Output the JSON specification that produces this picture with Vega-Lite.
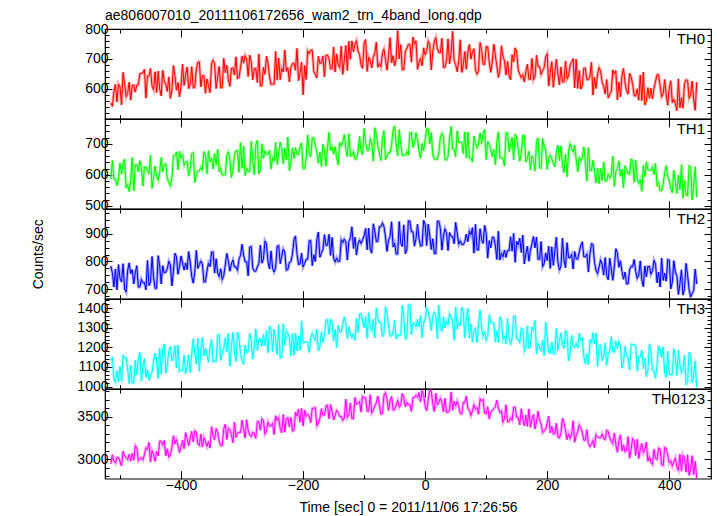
{
"$schema": "https://vega.github.io/schema/vega-lite/v6.json",
"background": "white",
"padding": {"left": 31, "top": 8, "right": 5, "bottom": 5},
"spacing": 0,
"bounds": "flush",
"data": {"values": [
{"t":-515,"th0":553,"th1":586,"th2":784,"th3":1133,"th0123":2947},
{"t":-510,"th0":591,"th1":587,"th2":708,"th3":1040,"th0123":2984},
{"t":-505,"th0":556,"th1":565,"th2":698,"th3":1081,"th0123":3021},
{"t":-500,"th0":606,"th1":638,"th2":739,"th3":1102,"th0123":2977},
{"t":-495,"th0":655,"th1":639,"th2":792,"th3":1162,"th0123":3095},
{"t":-490,"th0":573,"th1":557,"th2":690,"th3":1146,"th0123":3024},
{"t":-485,"th0":622,"th1":546,"th2":795,"th3":1015,"th0123":3060},
{"t":-480,"th0":612,"th1":656,"th2":771,"th3":1018,"th0123":3070},
{"t":-475,"th0":589,"th1":633,"th2":759,"th3":1135,"th0123":3161},
{"t":-470,"th0":614,"th1":610,"th2":708,"th3":1138,"th0123":2982},
{"t":-465,"th0":652,"th1":624,"th2":736,"th3":1027,"th0123":3019},
{"t":-460,"th0":665,"th1":625,"th2":724,"th3":1143,"th0123":3055},
{"t":-455,"th0":643,"th1":615,"th2":804,"th3":1089,"th0123":3119},
{"t":-450,"th0":668,"th1":664,"th2":727,"th3":1054,"th0123":2967},
{"t":-445,"th0":597,"th1":593,"th2":742,"th3":1133,"th0123":3058},
{"t":-440,"th0":587,"th1":595,"th2":704,"th3":1136,"th0123":3094},
{"t":-435,"th0":600,"th1":608,"th2":784,"th3":1195,"th0123":3212},
{"t":-430,"th0":662,"th1":609,"th2":785,"th3":1198,"th0123":3168},
{"t":-425,"th0":615,"th1":635,"th2":761,"th3":1068,"th0123":3043},
{"t":-420,"th0":640,"th1":576,"th2":801,"th3":1185,"th0123":3025},
{"t":-415,"th0":594,"th1":589,"th2":712,"th3":1131,"th0123":3143},
{"t":-410,"th0":643,"th1":662,"th2":830,"th3":1209,"th0123":3180},
{"t":-405,"th0":621,"th1":616,"th2":754,"th3":1212,"th0123":3162},
{"t":-400,"th0":610,"th1":653,"th2":820,"th3":1082,"th0123":3145},
{"t":-395,"th0":611,"th1":630,"th2":769,"th3":1161,"th0123":3126},
{"t":-390,"th0":673,"th1":644,"th2":771,"th3":1106,"th0123":3241},
{"t":-385,"th0":614,"th1":621,"th2":798,"th3":1071,"th0123":3249},
{"t":-380,"th0":604,"th1":671,"th2":722,"th3":1244,"th0123":3203},
{"t":-375,"th0":665,"th1":600,"th2":840,"th3":1114,"th0123":3319},
{"t":-370,"th0":690,"th1":613,"th2":789,"th3":1078,"th0123":3164},
{"t":-365,"th0":644,"th1":615,"th2":791,"th3":1252,"th0123":3145},
{"t":-360,"th0":585,"th1":664,"th2":727,"th3":1197,"th0123":3207},
{"t":-355,"th0":611,"th1":678,"th2":794,"th3":1124,"th0123":3214},
{"t":-350,"th0":684,"th1":655,"th2":834,"th3":1240,"th0123":3384},
{"t":-345,"th0":685,"th1":668,"th2":758,"th3":1129,"th0123":3230},
{"t":-340,"th0":639,"th1":682,"th2":759,"th3":1264,"th0123":3318},
{"t":-335,"th0":604,"th1":623,"th2":774,"th3":1134,"th0123":3164},
{"t":-330,"th0":702,"th1":601,"th2":749,"th3":1193,"th0123":3361},
{"t":-325,"th0":679,"th1":662,"th2":829,"th3":1177,"th0123":3234},
{"t":-320,"th0":608,"th1":651,"th2":765,"th3":1103,"th0123":3349},
{"t":-315,"th0":670,"th1":617,"th2":806,"th3":1277,"th0123":3195},
{"t":-310,"th0":707,"th1":678,"th2":781,"th3":1127,"th0123":3257},
{"t":-305,"th0":637,"th1":608,"th2":809,"th3":1244,"th0123":3318},
{"t":-300,"th0":710,"th1":621,"th2":862,"th3":1132,"th0123":3461},
{"t":-295,"th0":711,"th1":598,"th2":799,"th3":1211,"th0123":3252},
{"t":-290,"th0":641,"th1":611,"th2":748,"th3":1176,"th0123":3341},
{"t":-285,"th0":690,"th1":708,"th2":854,"th3":1235,"th0123":3267},
{"t":-280,"th0":668,"th1":601,"th2":765,"th3":1200,"th0123":3301},
{"t":-275,"th0":621,"th1":711,"th2":780,"th3":1184,"th0123":3444},
{"t":-270,"th0":610,"th1":616,"th2":859,"th3":1244,"th0123":3343},
{"t":-265,"th0":672,"th1":653,"th2":809,"th3":1266,"th0123":3458},
{"t":-260,"th0":709,"th1":666,"th2":863,"th3":1287,"th0123":3330},
{"t":-255,"th0":639,"th1":679,"th2":773,"th3":1309,"th0123":3392},
{"t":-250,"th0":616,"th1":656,"th2":775,"th3":1179,"th0123":3426},
{"t":-245,"th0":725,"th1":705,"th2":777,"th3":1239,"th0123":3514},
{"t":-240,"th0":703,"th1":670,"th2":857,"th3":1317,"th0123":3495},
{"t":-235,"th0":668,"th1":684,"th2":819,"th3":1149,"th0123":3313},
{"t":-230,"th0":730,"th1":685,"th2":834,"th3":1209,"th0123":3320},
{"t":-225,"th0":671,"th1":722,"th2":771,"th3":1269,"th0123":3490},
{"t":-220,"th0":672,"th1":639,"th2":799,"th3":1157,"th0123":3497},
{"t":-215,"th0":686,"th1":652,"th2":879,"th3":1160,"th0123":3342},
{"t":-210,"th0":735,"th1":666,"th2":828,"th3":1182,"th0123":3511},
{"t":-205,"th0":653,"th1":691,"th2":791,"th3":1184,"th0123":3438},
{"t":-200,"th0":580,"th1":620,"th2":780,"th3":1225,"th0123":3391},
{"t":-195,"th0":631,"th1":657,"th2":808,"th3":1228,"th0123":3506},
{"t":-190,"th0":717,"th1":670,"th2":875,"th3":1174,"th0123":3514},
{"t":-185,"th0":730,"th1":719,"th2":785,"th3":1271,"th0123":3602},
{"t":-180,"th0":648,"th1":696,"th2":800,"th3":1236,"th0123":3609},
{"t":-175,"th0":709,"th1":638,"th2":906,"th3":1182,"th0123":3428},
{"t":-170,"th0":686,"th1":627,"th2":830,"th3":1280,"th0123":3597},
{"t":-165,"th0":640,"th1":676,"th2":897,"th3":1264,"th0123":3523},
{"t":-160,"th0":713,"th1":689,"th2":859,"th3":1342,"th0123":3638},
{"t":-155,"th0":667,"th1":678,"th2":822,"th3":1345,"th0123":3646},
{"t":-150,"th0":740,"th1":667,"th2":811,"th3":1234,"th0123":3464},
{"t":-145,"th0":717,"th1":656,"th2":813,"th3":1199,"th0123":3579},
{"t":-140,"th0":671,"th1":705,"th2":801,"th3":1278,"th0123":3505},
{"t":-135,"th0":648,"th1":706,"th2":868,"th3":1318,"th0123":3459},
{"t":-130,"th0":745,"th1":683,"th2":870,"th3":1321,"th0123":3709},
{"t":-125,"th0":759,"th1":733,"th2":872,"th3":1305,"th0123":3527},
{"t":-120,"th0":760,"th1":662,"th2":925,"th3":1251,"th0123":3480},
{"t":-115,"th0":749,"th1":651,"th2":888,"th3":1235,"th0123":3730},
{"t":-110,"th0":726,"th1":676,"th2":864,"th3":1275,"th0123":3657},
{"t":-105,"th0":680,"th1":677,"th2":865,"th3":1373,"th0123":3556},
{"t":-100,"th0":753,"th1":750,"th2":893,"th3":1300,"th0123":3725},
{"t":-95,"th0":658,"th1":679,"th2":842,"th3":1245,"th0123":3568},
{"t":-90,"th0":694,"th1":716,"th2":843,"th3":1304,"th0123":3762},
{"t":-85,"th0":707,"th1":644,"th2":936,"th3":1343,"th0123":3578},
{"t":-80,"th0":756,"th1":729,"th2":872,"th3":1402,"th0123":3664},
{"t":-75,"th0":685,"th1":670,"th2":925,"th3":1328,"th0123":3642},
{"t":-70,"th0":721,"th1":719,"th2":939,"th3":1254,"th0123":3539},
{"t":-65,"th0":698,"th1":648,"th2":888,"th3":1408,"th0123":3787},
{"t":-60,"th0":711,"th1":672,"th2":877,"th3":1314,"th0123":3576},
{"t":-55,"th0":687,"th1":697,"th2":943,"th3":1259,"th0123":3743},
{"t":-50,"th0":676,"th1":758,"th2":866,"th3":1337,"th0123":3586},
{"t":-45,"th0":795,"th1":662,"th2":827,"th3":1262,"th0123":3695},
{"t":-40,"th0":748,"th1":699,"th2":867,"th3":1263,"th0123":3642},
{"t":-35,"th0":664,"th1":663,"th2":932,"th3":1358,"th0123":3725},
{"t":-30,"th0":736,"th1":675,"th2":842,"th3":1245,"th0123":3672},
{"t":-25,"th0":749,"th1":736,"th2":946,"th3":1417,"th0123":3646},
{"t":-20,"th0":773,"th1":688,"th2":907,"th3":1323,"th0123":3728},
{"t":-15,"th0":761,"th1":736,"th2":882,"th3":1305,"th0123":3756},
{"t":-10,"th0":689,"th1":677,"th2":882,"th3":1305,"th0123":3785},
{"t":-5,"th0":677,"th1":701,"th2":857,"th3":1249,"th0123":3813},
{"t":0,"th0":713,"th1":713,"th2":935,"th3":1345,"th0123":3625},
{"t":5,"th0":760,"th1":748,"th2":934,"th3":1382,"th0123":3704},
{"t":10,"th0":663,"th1":736,"th2":843,"th3":1285,"th0123":3810},
{"t":15,"th0":759,"th1":651,"th2":829,"th3":1379,"th0123":3564},
{"t":20,"th0":734,"th1":650,"th2":945,"th3":1244,"th0123":3643},
{"t":25,"th0":721,"th1":722,"th2":919,"th3":1300,"th0123":3722},
{"t":30,"th0":672,"th1":721,"th2":892,"th3":1356,"th0123":3558},
{"t":35,"th0":695,"th1":648,"th2":904,"th3":1335,"th0123":3556},
{"t":40,"th0":683,"th1":720,"th2":904,"th3":1372,"th0123":3580},
{"t":45,"th0":792,"th1":683,"th2":890,"th3":1332,"th0123":3578},
{"t":50,"th0":681,"th1":658,"th2":941,"th3":1407,"th0123":3630},
{"t":55,"th0":692,"th1":705,"th2":862,"th3":1329,"th0123":3624},
{"t":60,"th0":655,"th1":704,"th2":861,"th3":1403,"th0123":3536},
{"t":65,"th0":725,"th1":739,"th2":872,"th3":1249,"th0123":3665},
{"t":70,"th0":724,"th1":738,"th2":871,"th3":1399,"th0123":3604},
{"t":75,"th0":699,"th1":654,"th2":896,"th3":1322,"th0123":3517},
{"t":80,"th0":734,"th1":725,"th2":830,"th3":1282,"th0123":3645},
{"t":85,"th0":649,"th1":688,"th2":842,"th3":1223,"th0123":3612},
{"t":90,"th0":755,"th1":735,"th2":918,"th3":1392,"th0123":3713},
{"t":95,"th0":682,"th1":734,"th2":865,"th3":1257,"th0123":3707},
{"t":100,"th0":741,"th1":649,"th2":903,"th3":1236,"th0123":3538},
{"t":105,"th0":691,"th1":696,"th2":875,"th3":1366,"th0123":3475},
{"t":110,"th0":689,"th1":658,"th2":887,"th3":1325,"th0123":3573},
{"t":115,"th0":712,"th1":633,"th2":859,"th3":1227,"th0123":3618},
{"t":120,"th0":638,"th1":739,"th2":909,"th3":1224,"th0123":3608},
{"t":125,"th0":744,"th1":654,"th2":830,"th3":1335,"th0123":3572},
{"t":130,"th0":694,"th1":628,"th2":841,"th3":1255,"th0123":3481},
{"t":135,"th0":692,"th1":735,"th2":839,"th3":1347,"th0123":3445},
{"t":140,"th0":630,"th1":697,"th2":889,"th3":1211,"th0123":3489},
{"t":145,"th0":689,"th1":648,"th2":901,"th3":1360,"th0123":3615},
{"t":150,"th0":723,"th1":718,"th2":873,"th3":1243,"th0123":3497},
{"t":155,"th0":649,"th1":644,"th2":884,"th3":1221,"th0123":3407},
{"t":160,"th0":647,"th1":727,"th2":895,"th3":1294,"th0123":3478},
{"t":165,"th0":658,"th1":641,"th2":829,"th3":1196,"th0123":3523},
{"t":170,"th0":632,"th1":676,"th2":801,"th3":1193,"th0123":3594},
{"t":175,"th0":702,"th1":662,"th2":864,"th3":1304,"th0123":3477},
{"t":180,"th0":640,"th1":612,"th2":849,"th3":1338,"th0123":3359},
{"t":185,"th0":674,"th1":719,"th2":808,"th3":1221,"th0123":3566},
{"t":190,"th0":648,"th1":621,"th2":872,"th3":1180,"th0123":3421},
{"t":195,"th0":671,"th1":692,"th2":792,"th3":1158,"th0123":3331},
{"t":200,"th0":717,"th1":618,"th2":803,"th3":1250,"th0123":3429},
{"t":205,"th0":655,"th1":664,"th2":775,"th3":1171,"th0123":3311},
{"t":210,"th0":605,"th1":638,"th2":786,"th3":1167,"th0123":3300},
{"t":215,"th0":699,"th1":672,"th2":888,"th3":1297,"th0123":3425},
{"t":220,"th0":613,"th1":646,"th2":769,"th3":1236,"th0123":3253},
{"t":225,"th0":623,"th1":632,"th2":884,"th3":1214,"th0123":3486},
{"t":230,"th0":693,"th1":666,"th2":777,"th3":1287,"th0123":3340},
{"t":235,"th0":643,"th1":676,"th2":814,"th3":1131,"th0123":3303},
{"t":240,"th0":689,"th1":686,"th2":825,"th3":1261,"th0123":3293},
{"t":245,"th0":603,"th1":696,"th2":836,"th3":1200,"th0123":3201},
{"t":250,"th0":601,"th1":610,"th2":808,"th3":1197,"th0123":3326},
{"t":255,"th0":599,"th1":644,"th2":858,"th3":1232,"th0123":3370},
{"t":260,"th0":669,"th1":690,"th2":817,"th3":1152,"th0123":3225},
{"t":265,"th0":631,"th1":580,"th2":827,"th3":1168,"th0123":3349},
{"t":270,"th0":641,"th1":614,"th2":825,"th3":1240,"th0123":3150},
{"t":275,"th0":579,"th1":648,"th2":862,"th3":1275,"th0123":3221},
{"t":280,"th0":601,"th1":574,"th2":769,"th3":1272,"th0123":3292},
{"t":285,"th0":671,"th1":572,"th2":780,"th3":1211,"th0123":3255},
{"t":290,"th0":621,"th1":582,"th2":790,"th3":1132,"th0123":3298},
{"t":295,"th0":583,"th1":580,"th2":814,"th3":1223,"th0123":3234},
{"t":300,"th0":569,"th1":602,"th2":734,"th3":1163,"th0123":3332},
{"t":305,"th0":591,"th1":600,"th2":771,"th3":1255,"th0123":3213},
{"t":310,"th0":649,"th1":563,"th2":781,"th3":1176,"th0123":3311},
{"t":315,"th0":563,"th1":621,"th2":831,"th3":1192,"th0123":3084},
{"t":320,"th0":573,"th1":595,"th2":803,"th3":1208,"th0123":3289},
{"t":325,"th0":668,"th1":558,"th2":736,"th3":1129,"th0123":3171},
{"t":330,"th0":594,"th1":616,"th2":720,"th3":1163,"th0123":3106},
{"t":335,"th0":652,"th1":602,"th2":770,"th3":1084,"th0123":3014},
{"t":340,"th0":614,"th1":648,"th2":781,"th3":1214,"th0123":3246},
{"t":345,"th0":576,"th1":647,"th2":765,"th3":1211,"th0123":3047},
{"t":350,"th0":562,"th1":573,"th2":750,"th3":1151,"th0123":3009},
{"t":355,"th0":560,"th1":547,"th2":735,"th3":1186,"th0123":3187},
{"t":360,"th0":546,"th1":594,"th2":784,"th3":1145,"th0123":3123},
{"t":365,"th0":604,"th1":616,"th2":782,"th3":1085,"th0123":2977},
{"t":370,"th0":602,"th1":614,"th2":754,"th3":1177,"th0123":2967},
{"t":375,"th0":601,"th1":601,"th2":804,"th3":1079,"th0123":3118},
{"t":380,"th0":647,"th1":563,"th2":723,"th3":1113,"th0123":2999},
{"t":385,"th0":609,"th1":549,"th2":708,"th3":1186,"th0123":3124},
{"t":390,"th0":583,"th1":571,"th2":732,"th3":1202,"th0123":2924},
{"t":395,"th0":581,"th1":630,"th2":729,"th3":1047,"th0123":3130},
{"t":400,"th0":603,"th1":580,"th2":805,"th3":1063,"th0123":2957},
{"t":405,"th0":553,"th1":542,"th2":725,"th3":1060,"th0123":2919},
{"t":410,"th0":551,"th1":576,"th2":761,"th3":1151,"th0123":3016},
{"t":415,"th0":633,"th1":599,"th2":681,"th3":1186,"th0123":2871},
{"t":420,"th0":571,"th1":633,"th2":770,"th3":1069,"th0123":2860},
{"t":425,"th0":618,"th1":583,"th2":702,"th3":1160,"th0123":3011},
{"t":430,"th0":628,"th1":533,"th2":752,"th3":1024,"th0123":3054},
{"t":435,"th0":578,"th1":627,"th2":672,"th3":1154,"th0123":2881},
{"t":440,"th0":564,"th1":566,"th2":695,"th3":1055,"th0123":2817},
{"t":445,"th0":622,"th1":528,"th2":719,"th3":995,"th0123":2779},
{"t":-512.5,"th0":541,"th1":646,"th2":758,"th3":1152,"th0123":3055},
{"t":-507.5,"th0":615,"th1":587,"th2":773,"th3":1021,"th0123":2957},
{"t":-502.5,"th0":616,"th1":589,"th2":789,"th3":1024,"th0123":3021},
{"t":-497.5,"th0":546,"th1":602,"th2":726,"th3":1026,"th0123":2923},
{"t":-492.5,"th0":619,"th1":651,"th2":701,"th3":1143,"th0123":3041},
{"t":-487.5,"th0":585,"th1":569,"th2":768,"th3":1089,"th0123":2997},
{"t":-482.5,"th0":562,"th1":582,"th2":756,"th3":1110,"th0123":2979},
{"t":-477.5,"th0":612,"th1":548,"th2":719,"th3":1018,"th0123":2989},
{"t":-472.5,"th0":613,"th1":633,"th2":785,"th3":1059,"th0123":3134},
{"t":-467.5,"th0":650,"th1":646,"th2":708,"th3":1176,"th0123":3009},
{"t":-462.5,"th0":652,"th1":564,"th2":723,"th3":1103,"th0123":2992},
{"t":-457.5,"th0":569,"th1":625,"th2":698,"th3":1048,"th0123":3136},
{"t":-452.5,"th0":643,"th1":603,"th2":713,"th3":1032,"th0123":3200},
{"t":-447.5,"th0":608,"th1":556,"th2":818,"th3":1073,"th0123":3102},
{"t":-442.5,"th0":657,"th1":629,"th2":703,"th3":1171,"th0123":2977},
{"t":-437.5,"th0":659,"th1":583,"th2":821,"th3":1041,"th0123":3040},
{"t":-432.5,"th0":576,"th1":656,"th2":719,"th3":1062,"th0123":3212},
{"t":-427.5,"th0":626,"th1":633,"th2":759,"th3":1217,"th0123":3222},
{"t":-422.5,"th0":591,"th1":587,"th2":774,"th3":1106,"th0123":3124},
{"t":-417.5,"th0":568,"th1":564,"th2":788,"th3":1204,"th0123":3052},
{"t":-412.5,"th0":678,"th1":661,"th2":764,"th3":1150,"th0123":3278},
{"t":-407.5,"th0":595,"th1":674,"th2":817,"th3":1095,"th0123":3234},
{"t":-402.5,"th0":573,"th1":676,"th2":780,"th3":1079,"th0123":3081},
{"t":-397.5,"th0":682,"th1":665,"th2":794,"th3":1082,"th0123":3226},
{"t":-392.5,"th0":647,"th1":642,"th2":795,"th3":1066,"th0123":3315},
{"t":-387.5,"th0":601,"th1":596,"th2":836,"th3":1163,"th0123":3160},
{"t":-382.5,"th0":674,"th1":669,"th2":746,"th3":1166,"th0123":3330},
{"t":-377.5,"th0":604,"th1":575,"th2":761,"th3":1168,"th0123":3338},
{"t":-372.5,"th0":689,"th1":612,"th2":775,"th3":1247,"th0123":3184},
{"t":-367.5,"th0":606,"th1":625,"th2":802,"th3":1192,"th0123":3299},
{"t":-362.5,"th0":644,"th1":675,"th2":726,"th3":1157,"th0123":3253},
{"t":-357.5,"th0":633,"th1":604,"th2":766,"th3":1159,"th0123":3153},
{"t":-352.5,"th0":587,"th1":642,"th2":781,"th3":1200,"th0123":3133},
{"t":-347.5,"th0":696,"th1":619,"th2":834,"th3":1126,"th0123":3276},
{"t":-342.5,"th0":601,"th1":632,"th2":810,"th3":1129,"th0123":3365},
{"t":-337.5,"th0":675,"th1":610,"th2":746,"th3":1264,"th0123":3210},
{"t":-332.5,"th0":604,"th1":599,"th2":735,"th3":1172,"th0123":3164},
{"t":-327.5,"th0":654,"th1":601,"th2":788,"th3":1250,"th0123":3415},
{"t":-322.5,"th0":631,"th1":674,"th2":803,"th3":1272,"th0123":3369},
{"t":-317.5,"th0":668,"th1":591,"th2":791,"th3":1198,"th0123":3295},
{"t":-312.5,"th0":646,"th1":665,"th2":780,"th3":1182,"th0123":3438},
{"t":-307.5,"th0":635,"th1":678,"th2":768,"th3":1279,"th0123":3311},
{"t":-302.5,"th0":673,"th1":704,"th2":822,"th3":1168,"th0123":3318},
{"t":-297.5,"th0":686,"th1":693,"th2":823,"th3":1113,"th0123":3353},
{"t":-292.5,"th0":699,"th1":622,"th2":799,"th3":1173,"th0123":3468},
{"t":-287.5,"th0":713,"th1":611,"th2":852,"th3":1271,"th0123":3287},
{"t":-282.5,"th0":630,"th1":648,"th2":776,"th3":1140,"th0123":3321},
{"t":-277.5,"th0":668,"th1":697,"th2":765,"th3":1295,"th0123":3247},
{"t":-272.5,"th0":717,"th1":603,"th2":793,"th3":1241,"th0123":3444},
{"t":-267.5,"th0":610,"th1":700,"th2":794,"th3":1206,"th0123":3478},
{"t":-262.5,"th0":648,"th1":677,"th2":874,"th3":1209,"th0123":3296},
{"t":-257.5,"th0":685,"th1":666,"th2":798,"th3":1173,"th0123":3438},
{"t":-252.5,"th0":615,"th1":619,"th2":838,"th3":1290,"th0123":3392},
{"t":-247.5,"th0":616,"th1":644,"th2":762,"th3":1293,"th0123":3291},
{"t":-242.5,"th0":629,"th1":633,"th2":855,"th3":1163,"th0123":3460},
{"t":-237.5,"th0":631,"th1":706,"th2":792,"th3":1146,"th0123":3360},
{"t":-232.5,"th0":656,"th1":636,"th2":845,"th3":1320,"th0123":3529},
{"t":-227.5,"th0":658,"th1":649,"th2":769,"th3":1285,"th0123":3482},
{"t":-222.5,"th0":623,"th1":614,"th2":797,"th3":1250,"th0123":3382},
{"t":-217.5,"th0":684,"th1":687,"th2":825,"th3":1271,"th0123":3335},
{"t":-212.5,"th0":662,"th1":688,"th2":892,"th3":1274,"th0123":3558},
{"t":-207.5,"th0":627,"th1":666,"th2":789,"th3":1258,"th0123":3592},
{"t":-202.5,"th0":689,"th1":703,"th2":830,"th3":1336,"th0123":3600},
{"t":-197.5,"th0":678,"th1":620,"th2":793,"th3":1225,"th0123":3580},
{"t":-192.5,"th0":727,"th1":729,"th2":808,"th3":1228,"th0123":3533},
{"t":-187.5,"th0":729,"th1":658,"th2":875,"th3":1250,"th0123":3433},
{"t":-182.5,"th0":658,"th1":719,"th2":824,"th3":1252,"th0123":3602},
{"t":-177.5,"th0":636,"th1":672,"th2":878,"th3":1293,"th0123":3393},
{"t":-172.5,"th0":685,"th1":674,"th2":815,"th3":1201,"th0123":3482},
{"t":-167.5,"th0":710,"th1":699,"th2":843,"th3":1223,"th0123":3516},
{"t":-162.5,"th0":712,"th1":628,"th2":858,"th3":1340,"th0123":3631},
{"t":-157.5,"th0":701,"th1":737,"th2":898,"th3":1266,"th0123":3476},
{"t":-152.5,"th0":667,"th1":690,"th2":887,"th3":1326,"th0123":3565},
{"t":-147.5,"th0":656,"th1":691,"th2":798,"th3":1291,"th0123":3518},
{"t":-142.5,"th0":681,"th1":632,"th2":800,"th3":1313,"th0123":3552},
{"t":-137.5,"th0":743,"th1":693,"th2":879,"th3":1278,"th0123":3505},
{"t":-132.5,"th0":696,"th1":730,"th2":881,"th3":1356,"th0123":3486},
{"t":-127.5,"th0":661,"th1":659,"th2":805,"th3":1245,"th0123":3493},
{"t":-122.5,"th0":699,"th1":661,"th2":885,"th3":1267,"th0123":3662},
{"t":-117.5,"th0":724,"th1":674,"th2":847,"th3":1270,"th0123":3480},
{"t":-112.5,"th0":761,"th1":651,"th2":823,"th3":1349,"th0123":3649},
{"t":-107.5,"th0":714,"th1":724,"th2":877,"th3":1370,"th0123":3684},
{"t":-102.5,"th0":668,"th1":665,"th2":878,"th3":1335,"th0123":3745},
{"t":-97.5,"th0":765,"th1":702,"th2":919,"th3":1357,"th0123":3725},
{"t":-92.5,"th0":706,"th1":679,"th2":920,"th3":1378,"th0123":3568},
{"t":-87.5,"th0":670,"th1":704,"th2":830,"th3":1285,"th0123":3546},
{"t":-82.5,"th0":719,"th1":752,"th2":910,"th3":1248,"th0123":3632},
{"t":-77.5,"th0":672,"th1":693,"th2":872,"th3":1345,"th0123":3745},
{"t":-72.5,"th0":673,"th1":646,"th2":925,"th3":1328,"th0123":3534},
{"t":-67.5,"th0":733,"th1":743,"th2":926,"th3":1273,"th0123":3755},
{"t":-62.5,"th0":662,"th1":660,"th2":836,"th3":1370,"th0123":3706},
{"t":-57.5,"th0":771,"th1":672,"th2":890,"th3":1257,"th0123":3684},
{"t":-52.5,"th0":711,"th1":745,"th2":852,"th3":1278,"th0123":3581},
{"t":-47.5,"th0":700,"th1":698,"th2":827,"th3":1242,"th0123":3640},
{"t":-42.5,"th0":700,"th1":746,"th2":944,"th3":1262,"th0123":3614},
{"t":-37.5,"th0":664,"th1":663,"th2":854,"th3":1415,"th0123":3777},
{"t":-32.5,"th0":724,"th1":663,"th2":828,"th3":1244,"th0123":3617},
{"t":-27.5,"th0":748,"th1":663,"th2":946,"th3":1416,"th0123":3645},
{"t":-22.5,"th0":689,"th1":736,"th2":907,"th3":1265,"th0123":3565},
{"t":-17.5,"th0":749,"th1":700,"th2":855,"th3":1323,"th0123":3728},
{"t":-12.5,"th0":665,"th1":712,"th2":934,"th3":1343,"th0123":3729},
{"t":-7.5,"th0":701,"th1":653,"th2":856,"th3":1362,"th0123":3677},
{"t":-2.5,"th0":737,"th1":677,"th2":948,"th3":1325,"th0123":3759},
{"t":2.5,"th0":725,"th1":749,"th2":857,"th3":1402,"th0123":3571},
{"t":7.5,"th0":748,"th1":700,"th2":895,"th3":1344,"th0123":3812},
{"t":12.5,"th0":723,"th1":664,"th2":882,"th3":1361,"th0123":3648},
{"t":17.5,"th0":771,"th1":651,"th2":829,"th3":1360,"th0123":3780},
{"t":22.5,"th0":722,"th1":674,"th2":945,"th3":1415,"th0123":3670},
{"t":27.5,"th0":769,"th1":734,"th2":841,"th3":1281,"th0123":3668},
{"t":32.5,"th0":672,"th1":649,"th2":918,"th3":1299,"th0123":3720},
{"t":37.5,"th0":767,"th1":660,"th2":839,"th3":1316,"th0123":3556},
{"t":42.5,"th0":719,"th1":756,"th2":891,"th3":1353,"th0123":3796},
{"t":47.5,"th0":694,"th1":683,"th2":864,"th3":1237,"th0123":3686},
{"t":52.5,"th0":657,"th1":742,"th2":902,"th3":1293,"th0123":3684},
{"t":57.5,"th0":764,"th1":705,"th2":875,"th3":1310,"th0123":3543},
{"t":62.5,"th0":679,"th1":668,"th2":861,"th3":1384,"th0123":3671},
{"t":67.5,"th0":665,"th1":655,"th2":898,"th3":1344,"th0123":3746},
{"t":72.5,"th0":748,"th1":654,"th2":910,"th3":1247,"th0123":3577},
{"t":77.5,"th0":723,"th1":642,"th2":922,"th3":1227,"th0123":3571},
{"t":82.5,"th0":662,"th1":701,"th2":934,"th3":1301,"th0123":3591},
{"t":87.5,"th0":661,"th1":700,"th2":842,"th3":1318,"th0123":3531},
{"t":92.5,"th0":731,"th1":699,"th2":879,"th3":1297,"th0123":3686},
{"t":97.5,"th0":682,"th1":746,"th2":930,"th3":1276,"th0123":3545},
{"t":102.5,"th0":741,"th1":709,"th2":812,"th3":1255,"th0123":3619},
{"t":107.5,"th0":655,"th1":684,"th2":849,"th3":1328,"th0123":3556},
{"t":112.5,"th0":749,"th1":682,"th2":887,"th3":1325,"th0123":3600},
{"t":117.5,"th0":676,"th1":705,"th2":807,"th3":1284,"th0123":3699},
{"t":122.5,"th0":662,"th1":655,"th2":805,"th3":1357,"th0123":3554},
{"t":127.5,"th0":708,"th1":654,"th2":817,"th3":1240,"th0123":3437},
{"t":132.5,"th0":646,"th1":736,"th2":815,"th3":1217,"th0123":3643},
{"t":137.5,"th0":644,"th1":675,"th2":839,"th3":1252,"th0123":3445},
{"t":142.5,"th0":714,"th1":721,"th2":837,"th3":1249,"th0123":3462},
{"t":147.5,"th0":737,"th1":732,"th2":797,"th3":1360,"th0123":3615},
{"t":152.5,"th0":663,"th1":682,"th2":860,"th3":1243,"th0123":3497},
{"t":157.5,"th0":637,"th1":668,"th2":832,"th3":1297,"th0123":3596},
{"t":162.5,"th0":623,"th1":727,"th2":791,"th3":1180,"th0123":3397},
{"t":167.5,"th0":682,"th1":653,"th2":855,"th3":1310,"th0123":3388},
{"t":172.5,"th0":632,"th1":616,"th2":840,"th3":1212,"th0123":3378},
{"t":177.5,"th0":630,"th1":650,"th2":890,"th3":1285,"th0123":3531},
{"t":182.5,"th0":712,"th1":708,"th2":888,"th3":1167,"th0123":3440},
{"t":187.5,"th0":674,"th1":623,"th2":808,"th3":1202,"th0123":3458},
{"t":192.5,"th0":660,"th1":717,"th2":781,"th3":1237,"th0123":3313},
{"t":197.5,"th0":707,"th1":680,"th2":831,"th3":1329,"th0123":3358},
{"t":202.5,"th0":609,"th1":654,"th2":855,"th3":1174,"th0123":3510},
{"t":207.5,"th0":691,"th1":652,"th2":853,"th3":1228,"th0123":3392},
{"t":212.5,"th0":653,"th1":626,"th2":838,"th3":1167,"th0123":3300},
{"t":217.5,"th0":651,"th1":696,"th2":797,"th3":1183,"th0123":3263},
{"t":222.5,"th0":673,"th1":694,"th2":782,"th3":1274,"th0123":3307},
{"t":227.5,"th0":623,"th1":608,"th2":806,"th3":1195,"th0123":3432},
{"t":232.5,"th0":633,"th1":594,"th2":868,"th3":1268,"th0123":3232},
{"t":237.5,"th0":679,"th1":700,"th2":814,"th3":1169,"th0123":3249},
{"t":242.5,"th0":701,"th1":674,"th2":773,"th3":1204,"th0123":3455},
{"t":247.5,"th0":699,"th1":648,"th2":810,"th3":1219,"th0123":3282},
{"t":252.5,"th0":661,"th1":658,"th2":834,"th3":1273,"th0123":3407},
{"t":257.5,"th0":611,"th1":656,"th2":871,"th3":1251,"th0123":3316},
{"t":262.5,"th0":669,"th1":642,"th2":817,"th3":1114,"th0123":3225},
{"t":267.5,"th0":631,"th1":688,"th2":762,"th3":1111,"th0123":3187},
{"t":272.5,"th0":689,"th1":614,"th2":864,"th3":1221,"th0123":3177},
{"t":277.5,"th0":639,"th1":612,"th2":797,"th3":1218,"th0123":3140},
{"t":282.5,"th0":649,"th1":622,"th2":756,"th3":1101,"th0123":3265},
{"t":287.5,"th0":659,"th1":620,"th2":806,"th3":1211,"th0123":3255},
{"t":292.5,"th0":609,"th1":642,"th2":751,"th3":1151,"th0123":3244},
{"t":297.5,"th0":631,"th1":580,"th2":749,"th3":1109,"th0123":3342},
{"t":302.5,"th0":581,"th1":590,"th2":812,"th3":1182,"th0123":3251},
{"t":307.5,"th0":663,"th1":660,"th2":732,"th3":1179,"th0123":3186},
{"t":312.5,"th0":661,"th1":611,"th2":846,"th3":1233,"th0123":3176},
{"t":317.5,"th0":623,"th1":645,"th2":779,"th3":1230,"th0123":3219},
{"t":322.5,"th0":645,"th1":619,"th2":764,"th3":1094,"th0123":3100},
{"t":327.5,"th0":620,"th1":630,"th2":762,"th3":1205,"th0123":3090},
{"t":332.5,"th0":582,"th1":604,"th2":720,"th3":1144,"th0123":3268},
{"t":337.5,"th0":640,"th1":650,"th2":783,"th3":1217,"th0123":3122},
{"t":342.5,"th0":578,"th1":576,"th2":807,"th3":1214,"th0123":3219},
{"t":347.5,"th0":600,"th1":587,"th2":739,"th3":1078,"th0123":3236},
{"t":352.5,"th0":646,"th1":585,"th2":802,"th3":1151,"th0123":3117},
{"t":357.5,"th0":656,"th1":631,"th2":709,"th3":1091,"th0123":3079},
{"t":362.5,"th0":558,"th1":642,"th2":745,"th3":1050,"th0123":3204},
{"t":367.5,"th0":568,"th1":616,"th2":782,"th3":1218,"th0123":3031},
{"t":372.5,"th0":566,"th1":626,"th2":767,"th3":1082,"th0123":2940},
{"t":377.5,"th0":625,"th1":637,"th2":791,"th3":1041,"th0123":3010},
{"t":382.5,"th0":647,"th1":575,"th2":762,"th3":1208,"th0123":3134},
{"t":387.5,"th0":573,"th1":549,"th2":812,"th3":1148,"th0123":2935},
{"t":392.5,"th0":631,"th1":607,"th2":758,"th3":1069,"th0123":3140},
{"t":397.5,"th0":545,"th1":594,"th2":807,"th3":1180,"th0123":3049},
{"t":402.5,"th0":627,"th1":556,"th2":701,"th3":1063,"th0123":2984},
{"t":407.5,"th0":565,"th1":614,"th2":803,"th3":1193,"th0123":2973},
{"t":412.5,"th0":527,"th1":540,"th2":748,"th3":1056,"th0123":2908},
{"t":417.5,"th0":537,"th1":551,"th2":720,"th3":1110,"th0123":3060},
{"t":422.5,"th0":535,"th1":525,"th2":679,"th3":1088,"th0123":3049},
{"t":427.5,"th0":630,"th1":535,"th2":793,"th3":1008,"th0123":2849},
{"t":432.5,"th0":568,"th1":629,"th2":700,"th3":1176,"th0123":2811},
{"t":437.5,"th0":626,"th1":519,"th2":685,"th3":1021,"th0123":3043},
{"t":442.5,"th0":528,"th1":626,"th2":773,"th3":1131,"th0123":2979}
]},
"vconcat": [
{
 "width": 606, "height": 89.7,
 "title": {"text": "ae806007010_20111106172656_wam2_trn_4band_long.qdp", "anchor": "start", "frame": "group", "offset": -1},
 "layer": [
  {"mark": {"type": "line", "color": "#ff0000", "strokeWidth": 3, "opacity": 0.35, "clip": true},
   "encoding": {"x": {"field": "t", "type": "quantitative", "axis": null}, "y": {"field": "th0", "type": "quantitative", "axis": null}}},
  {"mark": {"type": "line", "color": "#ff0000", "strokeWidth": 1, "clip": true},
   "encoding": {
    "x": {"field": "t", "type": "quantitative", "scale": {"domain": [-524.6, 468.4], "nice": false, "zero": false},
          "axis": {"orient": "bottom", "title": null, "labels": false, "values": [-500,-400,-300,-200,-100,0,100,200,300,400],
                   "tickSize": {"condition": {"test": "datum.value % 200 === 0", "value": -8}, "value": -4}}},
    "y": {"field": "th0", "type": "quantitative", "scale": {"domain": [500, 800], "nice": false, "zero": false},
          "axis": {"orient": "left", "title": null, "format": "d", "values": [500,520,540,560,580,600,620,640,660,680,700,720,740,760,780,800],
                   "labelExpr": "datum.value % 100 === 0 && datum.value > 500 ? datum.label : ''",
                   "tickSize": {"condition": {"test": "datum.value % 100 === 0", "value": -7}, "value": -4}}}
   }},
  {"data": {"values": [{"lab": "TH0"}]},
   "mark": {"type": "text", "align": "right", "baseline": "top", "dx": -6, "dy": 3, "fontSize": 15, "font": "Liberation Sans", "color": "black"},
   "encoding": {
    "x": {"datum": 468.4, "type": "quantitative", "axis": {"orient": "top", "title": null, "labels": false, "values": [-500,-400,-300,-200,-100,0,100,200,300,400],
          "tickSize": {"condition": {"test": "datum.value % 200 === 0", "value": -8}, "value": -4}}},
    "y": {"datum": 800, "type": "quantitative", "axis": {"orient": "right", "title": null, "labels": false, "values": [500,520,540,560,580,600,620,640,660,680,700,720,740,760,780,800],
          "tickSize": {"condition": {"test": "datum.value % 100 === 0", "value": -7}, "value": -4}}},
    "text": {"field": "lab"}
   }}
 ],
 "resolve": {"axis": {"x": "independent", "y": "independent"}}
},
{
 "width": 606, "height": 89.7,
 "layer": [
  {"mark": {"type": "line", "color": "#00ff00", "strokeWidth": 3, "opacity": 0.35, "clip": true},
   "encoding": {"x": {"field": "t", "type": "quantitative", "axis": null}, "y": {"field": "th1", "type": "quantitative", "axis": null}}},
  {"mark": {"type": "line", "color": "#00ff00", "strokeWidth": 1, "clip": true},
   "encoding": {
    "x": {"field": "t", "type": "quantitative", "scale": {"domain": [-524.6, 468.4], "nice": false, "zero": false},
          "axis": {"orient": "bottom", "title": null, "labels": false, "values": [-500,-400,-300,-200,-100,0,100,200,300,400],
                   "tickSize": {"condition": {"test": "datum.value % 200 === 0", "value": -8}, "value": -4}}},
    "y": {"field": "th1", "type": "quantitative", "scale": {"domain": [491, 780], "nice": false, "zero": false},
          "axis": {"orient": "left", "title": null, "format": "d", "values": [500,520,540,560,580,600,620,640,660,680,700,720,740,760,780],
                   "labelExpr": "datum.value % 100 === 0 ? datum.label : ''",
                   "tickSize": {"condition": {"test": "datum.value % 100 === 0", "value": -7}, "value": -4}}}
   }},
  {"data": {"values": [{"lab": "TH1"}]},
   "mark": {"type": "text", "align": "right", "baseline": "top", "dx": -6, "dy": 3, "fontSize": 15, "font": "Liberation Sans", "color": "black"},
   "encoding": {
    "x": {"datum": 468.4, "type": "quantitative", "axis": {"orient": "top", "title": null, "labels": false, "values": [-500,-400,-300,-200,-100,0,100,200,300,400],
          "tickSize": {"condition": {"test": "datum.value % 200 === 0", "value": -8}, "value": -4}}},
    "y": {"datum": 780, "type": "quantitative", "axis": {"orient": "right", "title": null, "labels": false, "values": [500,520,540,560,580,600,620,640,660,680,700,720,740,760,780],
          "tickSize": {"condition": {"test": "datum.value % 100 === 0", "value": -7}, "value": -4}}},
    "text": {"field": "lab"}
   }}
 ],
 "resolve": {"axis": {"x": "independent", "y": "independent"}}
},
{
 "width": 606, "height": 89.7,
 "layer": [
  {"mark": {"type": "line", "color": "#0000ff", "strokeWidth": 3, "opacity": 0.35, "clip": true},
   "encoding": {"x": {"field": "t", "type": "quantitative", "axis": null}, "y": {"field": "th2", "type": "quantitative", "axis": null}}},
  {"mark": {"type": "line", "color": "#0000ff", "strokeWidth": 1, "clip": true},
   "encoding": {
    "x": {"field": "t", "type": "quantitative", "scale": {"domain": [-524.6, 468.4], "nice": false, "zero": false},
          "axis": {"orient": "bottom", "title": null, "labels": false, "values": [-500,-400,-300,-200,-100,0,100,200,300,400],
                   "tickSize": {"condition": {"test": "datum.value % 200 === 0", "value": -8}, "value": -4}}},
    "y": {"field": "th2", "type": "quantitative", "scale": {"domain": [666, 989], "nice": false, "zero": false},
          "axis": {"orient": "left", "title": "Counts/sec", "titlePadding": 39, "format": "d", "values": [675,700,725,750,775,800,825,850,875,900,925,950,975],
                   "labelExpr": "datum.value % 100 === 0 ? datum.label : ''",
                   "tickSize": {"condition": {"test": "datum.value % 100 === 0", "value": -7}, "value": -4}}}
   }},
  {"data": {"values": [{"lab": "TH2"}]},
   "mark": {"type": "text", "align": "right", "baseline": "top", "dx": -6, "dy": 3, "fontSize": 15, "font": "Liberation Sans", "color": "black"},
   "encoding": {
    "x": {"datum": 468.4, "type": "quantitative", "axis": {"orient": "top", "title": null, "labels": false, "values": [-500,-400,-300,-200,-100,0,100,200,300,400],
          "tickSize": {"condition": {"test": "datum.value % 200 === 0", "value": -8}, "value": -4}}},
    "y": {"datum": 989, "type": "quantitative", "axis": {"orient": "right", "title": null, "labels": false, "values": [675,700,725,750,775,800,825,850,875,900,925,950,975],
          "tickSize": {"condition": {"test": "datum.value % 100 === 0", "value": -7}, "value": -4}}},
    "text": {"field": "lab"}
   }}
 ],
 "resolve": {"axis": {"x": "independent", "y": "independent"}}
},
{
 "width": 606, "height": 89.7,
 "layer": [
  {"mark": {"type": "line", "color": "#00ffff", "strokeWidth": 3, "opacity": 0.35, "clip": true},
   "encoding": {"x": {"field": "t", "type": "quantitative", "axis": null}, "y": {"field": "th3", "type": "quantitative", "axis": null}}},
  {"mark": {"type": "line", "color": "#00ffff", "strokeWidth": 1, "clip": true},
   "encoding": {
    "x": {"field": "t", "type": "quantitative", "scale": {"domain": [-524.6, 468.4], "nice": false, "zero": false},
          "axis": {"orient": "bottom", "title": null, "labels": false, "values": [-500,-400,-300,-200,-100,0,100,200,300,400],
                   "tickSize": {"condition": {"test": "datum.value % 200 === 0", "value": -8}, "value": -4}}},
    "y": {"field": "th3", "type": "quantitative", "scale": {"domain": [989, 1447], "nice": false, "zero": false},
          "axis": {"orient": "left", "title": null, "format": "d", "values": [1000,1020,1040,1060,1080,1100,1120,1140,1160,1180,1200,1220,1240,1260,1280,1300,1320,1340,1360,1380,1400,1420,1440],
                   "labelExpr": "datum.value % 100 === 0 ? datum.label : ''",
                   "tickSize": {"condition": {"test": "datum.value % 100 === 0", "value": -7}, "value": -4}}}
   }},
  {"data": {"values": [{"lab": "TH3"}]},
   "mark": {"type": "text", "align": "right", "baseline": "top", "dx": -6, "dy": 3, "fontSize": 15, "font": "Liberation Sans", "color": "black"},
   "encoding": {
    "x": {"datum": 468.4, "type": "quantitative", "axis": {"orient": "top", "title": null, "labels": false, "values": [-500,-400,-300,-200,-100,0,100,200,300,400],
          "tickSize": {"condition": {"test": "datum.value % 200 === 0", "value": -8}, "value": -4}}},
    "y": {"datum": 1447, "type": "quantitative", "axis": {"orient": "right", "title": null, "labels": false, "values": [1000,1020,1040,1060,1080,1100,1120,1140,1160,1180,1200,1220,1240,1260,1280,1300,1320,1340,1360,1380,1400,1420,1440],
          "tickSize": {"condition": {"test": "datum.value % 100 === 0", "value": -7}, "value": -4}}},
    "text": {"field": "lab"}
   }}
 ],
 "resolve": {"axis": {"x": "independent", "y": "independent"}}
},
{
 "width": 606, "height": 89.7,
 "layer": [
  {"mark": {"type": "line", "color": "#ff00ff", "strokeWidth": 3, "opacity": 0.35, "clip": true},
   "encoding": {"x": {"field": "t", "type": "quantitative", "axis": null}, "y": {"field": "th0123", "type": "quantitative", "axis": null}}},
  {"mark": {"type": "line", "color": "#ff00ff", "strokeWidth": 1, "clip": true},
   "encoding": {
    "x": {"field": "t", "type": "quantitative", "scale": {"domain": [-524.6, 468.4], "nice": false, "zero": false},
          "axis": {"orient": "bottom", "title": "Time [sec] 0 = 2011/11/06 17:26:56", "titlePadding": 4, "labelPadding": 8,
                   "values": [-500,-400,-300,-200,-100,0,100,200,300,400],
                   "labelExpr": "datum.value % 200 === 0 ? datum.label : ''",
                   "tickSize": {"condition": {"test": "datum.value % 200 === 0", "value": -8}, "value": -4}}},
    "y": {"field": "th0123", "type": "quantitative", "scale": {"domain": [2772, 3829], "nice": false, "zero": false},
          "axis": {"orient": "left", "title": null, "format": "d", "values": [2800,2900,3000,3100,3200,3300,3400,3500,3600,3700,3800],
                   "labelExpr": "datum.value % 500 === 0 ? datum.label : ''",
                   "tickSize": {"condition": {"test": "datum.value % 500 === 0", "value": -7}, "value": -4}}}
   }},
  {"data": {"values": [{"lab": "TH0123"}]},
   "mark": {"type": "text", "align": "right", "baseline": "top", "dx": -6, "dy": 3, "fontSize": 15, "font": "Liberation Sans", "color": "black"},
   "encoding": {
    "x": {"datum": 468.4, "type": "quantitative", "axis": {"orient": "top", "title": null, "labels": false, "values": [-500,-400,-300,-200,-100,0,100,200,300,400],
          "tickSize": {"condition": {"test": "datum.value % 200 === 0", "value": -8}, "value": -4}}},
    "y": {"datum": 3829, "type": "quantitative", "axis": {"orient": "right", "title": null, "labels": false, "values": [2800,2900,3000,3100,3200,3300,3400,3500,3600,3700,3800],
          "tickSize": {"condition": {"test": "datum.value % 500 === 0", "value": -7}, "value": -4}}},
    "text": {"field": "lab"}
   }}
 ],
 "resolve": {"axis": {"x": "independent", "y": "independent"}}
}
],
"config": {
 "view": {"stroke": "black", "strokeWidth": 1.2},
 "axis": {"domain": false, "grid": false, "tickColor": "black", "tickWidth": 1, "labelColor": "black", "labelFont": "Liberation Sans", "labelFontSize": 14,
          "titleFont": "Liberation Sans", "titleFontSize": 14, "titleFontWeight": "normal", "titleColor": "black", "labelPadding": 4, "labelOverlap": false, "labelFlush": false},
 "title": {"font": "Liberation Sans", "fontSize": 14, "fontWeight": "normal", "color": "black"}
}
}
